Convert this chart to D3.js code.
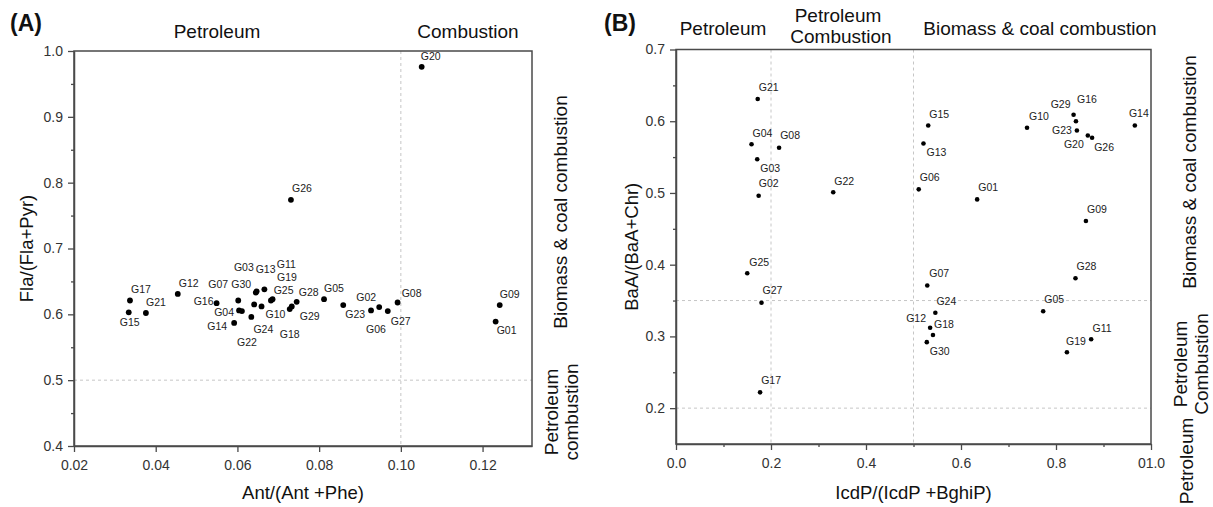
<!DOCTYPE html>
<html>
<head>
<meta charset="utf-8">
<script src="https://cdn.jsdelivr.net/npm/d3@7"></script>
<style>
  body { margin: 0; background: #fff; }
  text { font-family: Arial, "Liberation Sans", sans-serif; }
</style>
</head>
<body>
<svg id="chart" width="1213" height="507"></svg>
<script>
// sample names, same order in both panels
var samples = ["G01","G02","G03","G04","G05","G06","G07","G08","G09","G10",
               "G11","G12","G13","G14","G15","G16","G17","G18","G19","G20",
               "G21","G22","G23","G24","G25","G26","G27","G28","G29","G30"];

// panel A : Ant/(Ant+Phe) vs Fla/(Fla+Pyr)
var antPhe = [0.1232,0.0947,0.0645,0.0604,0.0812,0.0927,0.0602,0.0992,0.1242,0.0659,
              0.0666,0.0454,0.0647,0.0592,0.0334,0.0549,0.0337,0.0728,0.0682,0.1051,
              0.0376,0.0611,0.0859,0.0634,0.0686,0.0731,0.0968,0.0745,0.0733,0.0641];
var flaPyr = [0.589,0.611,0.633,0.606,0.623,0.606,0.621,0.618,0.614,0.612,
              0.638,0.631,0.635,0.587,0.603,0.617,0.621,0.608,0.621,0.976,
              0.602,0.605,0.614,0.596,0.623,0.774,0.605,0.619,0.612,0.615];

// panel B : IcdP/(IcdP+BghiP) vs BaA/(BaA+Chr)
var icdpBghip = [0.634,0.174,0.171,0.159,0.773,0.511,0.529,0.217,0.863,0.739,
                 0.874,0.535,0.521,0.966,0.531,0.842,0.177,0.541,0.823,0.867,
                 0.172,0.331,0.844,0.546,0.150,0.876,0.180,0.841,0.837,0.528];
var baaChr = [0.491,0.496,0.547,0.568,0.335,0.505,0.371,0.563,0.461,0.591,
              0.296,0.312,0.569,0.594,0.594,0.600,0.222,0.302,0.278,0.580,
              0.631,0.501,0.587,0.333,0.388,0.577,0.347,0.381,0.609,0.292];

// ticks
var ticksAx = [0.02,0.04,0.06,0.08,0.10,0.12];
var labelsAx = ["0.02","0.04","0.06","0.08","0.10","0.12"];
var ticksAy = [0.4,0.5,0.6,0.7,0.8,0.9,1.0];
var minorAy = [0.45,0.55,0.65,0.75,0.85,0.95];
var ticksBx = [0,0.2,0.4,0.6,0.8,1.0];
var labelsBx = ["0.0","0.2","0.4","0.6","0.8","01.0"];
var minorBx = [0.1,0.3,0.5,0.7,0.9];
var ticksBy = [0.2,0.3,0.4,0.5,0.6,0.7];
var minorBy = [0.25,0.35,0.45,0.55,0.65];

// threshold lines
var guideAx = [0.10], guideAy = [0.5];
var guideBx = [0.2,0.5], guideBy = [0.2,0.35];

// where each name sits next to its dot (px)
var nudgeA = {
  G01:[11,9], G02:[-13,-10], G03:[-12,-25], G04:[-15,2], G05:[10,-11], G06:[5,19],
  G07:[-20,-16], G08:[14,-9], G09:[10,-11], G10:[14,8], G11:[22,-25], G12:[11,-11],
  G13:[9,-22], G14:[-17,3], G15:[1,10], G16:[-13,-2], G17:[11,-11], G18:[0,25],
  G19:[16,-23], G20:[9,-10], G21:[10,-11], G22:[5,31], G23:[12,9], G24:[12,12],
  G25:[11,-9], G26:[11,-11], G27:[13,10], G28:[12,-10], G29:[18,10], G30:[-13,-20]
};
var nudgeB = {
  G01:[11,-12], G02:[10,-12], G03:[13,9], G04:[11,-11], G05:[11,-12], G06:[11,-12],
  G07:[12,-12], G08:[11,-12], G09:[11,-12], G10:[12,-11], G11:[11,-11], G12:[-14,-9],
  G13:[13,9], G14:[4,-12], G15:[11,-11], G16:[11,-22], G17:[11,-12], G18:[11,-11],
  G19:[9,-11], G20:[-14,9], G21:[11,-12], G22:[11,-11], G23:[-15,0], G24:[11,-11],
  G25:[12,-11], G26:[12,10], G27:[11,-12], G28:[11,-12], G29:[-13,-10], G30:[13,9]
};

var svg = d3.select("#chart");
var axisColor = "#4a4a4a";

function drawPanel(o) {
  var x = d3.scaleLinear().domain(o.xDomain).range([o.left, o.right]);
  var y = d3.scaleLinear().domain(o.yDomain).range([o.bottom, o.top]);
  var g = svg.append("g");

  // dashed guide lines
  g.selectAll(".vg").data(o.vGuides).enter().append("line")
    .attr("x1", function(d){ return x(d); }).attr("x2", function(d){ return x(d); })
    .attr("y1", o.top).attr("y2", o.bottom)
    .attr("stroke", "#c6c6c6").attr("stroke-width", 1).attr("stroke-dasharray", "3,3");
  g.selectAll(".hg").data(o.hGuides).enter().append("line")
    .attr("y1", function(d){ return y(d); }).attr("y2", function(d){ return y(d); })
    .attr("x1", o.left).attr("x2", o.right)
    .attr("stroke", "#c6c6c6").attr("stroke-width", 1).attr("stroke-dasharray", "3,3");

  // frame
  g.append("rect")
    .attr("x", o.left).attr("y", o.top)
    .attr("width", o.right - o.left).attr("height", o.bottom - o.top)
    .attr("fill", "none").attr("stroke", axisColor).attr("stroke-width", 1.5);

  // axes
  g.append("g").attr("transform", "translate(0," + o.bottom + ")")
    .call(d3.axisBottom(x).tickValues(o.xTicks).tickSize(6).tickSizeOuter(0).tickPadding(8)
      .tickFormat(function(d, i){ return o.xLabels[i]; }));
  g.append("g").attr("transform", "translate(" + o.left + ",0)")
    .call(d3.axisLeft(y).tickValues(o.yTicks).tickSize(6).tickSizeOuter(0).tickPadding(5)
      .tickFormat(d3.format(".1f")));
  if (o.xMinor.length) {
    g.append("g").attr("transform", "translate(0," + o.bottom + ")")
      .call(d3.axisBottom(x).tickValues(o.xMinor).tickSize(3).tickSizeOuter(0).tickFormat(""))
      .select(".domain").remove();
  }
  g.append("g").attr("transform", "translate(" + o.left + ",0)")
    .call(d3.axisLeft(y).tickValues(o.yMinor).tickSize(3).tickSizeOuter(0).tickFormat(""))
    .select(".domain").remove();

  g.selectAll(".domain").attr("stroke", axisColor).attr("stroke-width", 1.5);
  g.selectAll(".tick line").attr("stroke", axisColor).attr("stroke-width", 1.3);
  g.selectAll(".tick text").attr("fill", "#333").style("font-size", "14px")
    .style("font-family", "Arial, 'Liberation Sans', sans-serif");

  // points and names
  var pts = o.names.map(function(n, i){ return {name: n, x: o.xs[i], y: o.ys[i]}; });
  g.selectAll(".dot").data(pts).enter().append("circle")
    .attr("cx", function(d){ return x(d.x); })
    .attr("cy", function(d){ return y(d.y); })
    .attr("r", o.r).attr("fill", "#000");
  g.selectAll(".lbl").data(pts).enter().append("text")
    .attr("x", function(d){ return x(d.x) + o.nudge[d.name][0]; })
    .attr("y", function(d){ return y(d.y) + o.nudge[d.name][1]; })
    .attr("dy", "0.35em").attr("text-anchor", "middle")
    .style("font-size", "10.5px").attr("fill", "#222")
    .text(function(d){ return d.name; });

  // axis titles
  g.append("text").attr("x", (o.left + o.right) / 2).attr("y", 499)
    .attr("text-anchor", "middle").style("font-size", "18.5px").attr("fill", "#111")
    .text(o.xTitle);
  g.append("text").attr("transform", "translate(" + o.yTitleX + "," + ((o.top + o.bottom) / 2) + ") rotate(-90)")
    .attr("text-anchor", "middle").attr("dy", "0.35em").style("font-size", "18.5px").attr("fill", "#111")
    .text(o.yTitle);
}

drawPanel({
  left: 74, right: 532, top: 51, bottom: 446,
  xDomain: [0.02, 0.1321], yDomain: [0.4, 1.0],
  xTicks: ticksAx, xLabels: labelsAx, xMinor: [],
  yTicks: ticksAy, yMinor: minorAy,
  vGuides: guideAx, hGuides: guideAy,
  names: samples, xs: antPhe, ys: flaPyr, nudge: nudgeA, r: 2.9,
  xTitle: "Ant/(Ant +Phe)", yTitle: "Fla/(Fla+Pyr)", yTitleX: 27
});

drawPanel({
  left: 676, right: 1151, top: 49.5, bottom: 444,
  xDomain: [0, 1], yDomain: [0.15, 0.7],
  xTicks: ticksBx, xLabels: labelsBx, xMinor: minorBx,
  yTicks: ticksBy, yMinor: minorBy,
  vGuides: guideBx, hGuides: guideBy,
  names: samples, xs: icdpBghip, ys: baaChr, nudge: nudgeB, r: 2.3,
  xTitle: "IcdP/(IcdP +BghiP)", yTitle: "BaA/(BaA+Chr)", yTitleX: 632
});

// panel letters
svg.append("text").attr("x", 10).attr("y", 31).style("font-size", "23px")
  .style("font-weight", "bold").attr("fill", "#111").text("(A)");
svg.append("text").attr("x", 604).attr("y", 31).style("font-size", "23px")
  .style("font-weight", "bold").attr("fill", "#111").text("(B)");

// source region titles, top
function topText(txt, cx, by) {
  svg.append("text").attr("x", cx).attr("y", by).attr("text-anchor", "middle")
    .style("font-size", "19px").attr("fill", "#111").text(txt);
}
topText("Petroleum", 217, 38);
topText("Combustion", 468, 38);
topText("Petroleum", 723, 35);
topText("Petroleum", 838, 22);
topText("Combustion", 841, 43);
topText("Biomass & coal combustion", 1040, 35);

// source region titles, right side (rotated)
function sideText(txt, cx, cy) {
  svg.append("text").attr("transform", "translate(" + cx + "," + cy + ") rotate(-90)")
    .attr("text-anchor", "middle").attr("dy", "0.35em")
    .style("font-size", "19px").attr("fill", "#111").text(txt);
}
sideText("Biomass & coal combustion", 560, 212);
sideText("Petroleum", 551, 412);
sideText("combustion", 571, 412);
sideText("Biomass & coal combustion", 1189, 172);
sideText("Petroleum", 1180, 364);
sideText("Combustion", 1201, 364);
sideText("Petroleum", 1186, 461);
</script>
</body>
</html>
